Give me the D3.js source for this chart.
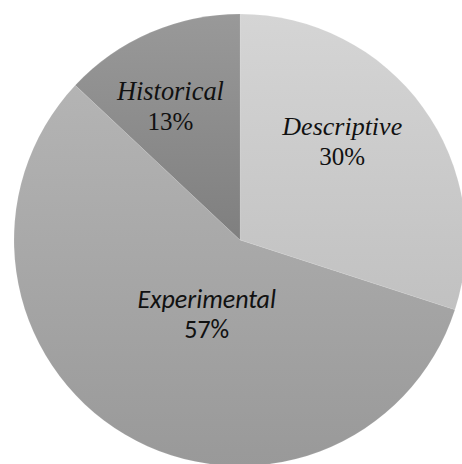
<!DOCTYPE html>
<html>
<head>
<meta charset="utf-8">
<script src="https://cdn.jsdelivr.net/npm/d3@7"></script>
<style>
  html, body { margin: 0; padding: 0; background: #fff; }
  svg { display: block; }
</style>
</head>
<body>
<svg id="chart" width="462" height="464"></svg>
<script>
// Research method shares
const categories = ["Descriptive", "Experimental", "Historical"];
const shares = [30, 57, 13];
const percentLabels = ["30%", "57%", "13%"];

// Fill gradients (top, bottom) for each slice
const gradTop = ["#d5d5d5", "#b4b4b4", "#999999"];
const gradBottom = ["#c1c1c1", "#999999", "#7f7f7f"];
// Label fonts, sizes and pixel nudges from the slice centroid
const labelFonts = ["Liberation Serif", "Carlito", "Liberation Serif"];
const nameSizes = [26, 26, 26.4];
const pctSizes = [25, 26, 25];
const labelNudge = [[-11, -23], [38, -53], [-14, -12]];

const cx = 240, cy = 240, radius = 226;
const svg = d3.select("#chart");

const defs = svg.append("defs");
categories.forEach((c, i) => {
  const grad = defs.append("linearGradient")
    .attr("id", "grad" + i)
    .attr("x1", 0).attr("y1", 0).attr("x2", 0).attr("y2", 1);
  grad.append("stop").attr("offset", "0%").attr("stop-color", gradTop[i]);
  grad.append("stop").attr("offset", "100%").attr("stop-color", gradBottom[i]);
});

const pie = d3.pie().sort(null);
const arcs = pie(shares);

const arc = d3.arc().innerRadius(0).outerRadius(radius);
const labelArc = d3.arc().innerRadius(140).outerRadius(140);

const root = svg.append("g").attr("transform", `translate(${cx},${cy})`);

root.selectAll("path.slice")
  .data(arcs)
  .enter().append("path")
  .attr("class", "slice")
  .attr("d", arc)
  .attr("fill", (d, i) => `url(#grad${i})`)
  .attr("stroke", "rgba(255,255,255,0.2)")
  .attr("stroke-width", 0.5);

arcs.forEach((a, i) => {
  const [x, y] = labelArc.centroid(a);
  const n = labelNudge[i];
  const lx = x + n[0], ly = y + n[1];

  root.append("text")
    .attr("x", lx).attr("y", ly)
    .attr("text-anchor", "middle")
    .attr("fill", "#111")
    .attr("font-family", labelFonts[i])
    .attr("font-style", "italic")
    .attr("font-size", nameSizes[i])
    .text(categories[i]);

  root.append("text")
    .attr("x", lx).attr("y", ly + 30)
    .attr("text-anchor", "middle")
    .attr("fill", "#111")
    .attr("font-family", labelFonts[i])
    .attr("font-size", pctSizes[i])
    .text(percentLabels[i]);
});
</script>
</body>
</html>
